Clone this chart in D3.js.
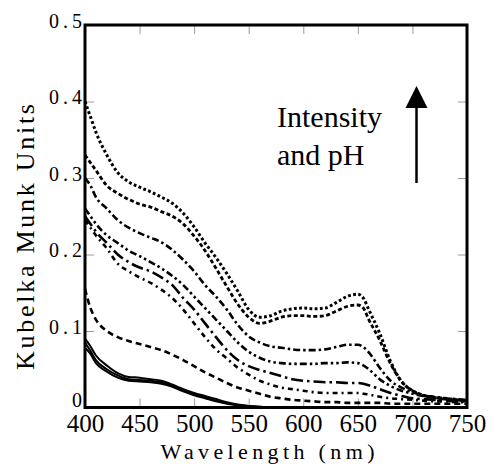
<!DOCTYPE html>
<html>
<head>
<meta charset="utf-8">
<script src="https://cdn.jsdelivr.net/npm/d3@7/dist/d3.min.js"></script>
<style>
html,body{margin:0;padding:0;background:#fff;}
svg{display:block;}
</style>
</head>
<body>
<svg id="chart" width="492" height="475"></svg>
<script>
// ---- data ----
const wavelengths = [400,405,410,420,430,440,450,460,470,480,490,500,510,520,530,540,550,560,570,580,590,600,610,620,630,640,650,655,660,670,680,690,700,710,720,730,740,750];
const seriesA = [0.40,0.38,0.36,0.33,0.307,0.295,0.288,0.282,0.275,0.267,0.254,0.236,0.215,0.196,0.175,0.152,0.128,0.118,0.12,0.126,0.129,0.13,0.129,0.13,0.137,0.145,0.148,0.143,0.128,0.097,0.06,0.034,0.022,0.016,0.013,0.012,0.01,0.009];
const seriesB = [0.33,0.32,0.31,0.29,0.28,0.272,0.266,0.262,0.256,0.25,0.24,0.224,0.205,0.182,0.158,0.135,0.118,0.11,0.113,0.118,0.12,0.12,0.119,0.12,0.126,0.132,0.134,0.13,0.115,0.088,0.057,0.034,0.022,0.016,0.013,0.011,0.01,0.009];
const seriesC = [0.30,0.29,0.275,0.26,0.245,0.235,0.228,0.222,0.216,0.206,0.193,0.178,0.16,0.145,0.128,0.108,0.093,0.085,0.08,0.078,0.076,0.075,0.075,0.076,0.079,0.082,0.082,0.079,0.072,0.052,0.035,0.026,0.02,0.016,0.014,0.012,0.011,0.01];
const seriesD = [0.26,0.25,0.24,0.225,0.215,0.205,0.198,0.19,0.182,0.172,0.16,0.145,0.13,0.115,0.1,0.085,0.073,0.065,0.06,0.058,0.057,0.057,0.057,0.058,0.058,0.059,0.058,0.055,0.05,0.037,0.028,0.022,0.018,0.015,0.013,0.011,0.01,0.009];
const seriesE = [0.25,0.24,0.23,0.215,0.2,0.19,0.183,0.178,0.17,0.16,0.143,0.128,0.11,0.092,0.075,0.062,0.054,0.049,0.045,0.041,0.037,0.035,0.034,0.033,0.033,0.032,0.032,0.031,0.029,0.024,0.019,0.015,0.012,0.011,0.01,0.009,0.008,0.008];
const seriesG = [0.245,0.235,0.225,0.208,0.188,0.178,0.17,0.163,0.154,0.143,0.128,0.11,0.092,0.076,0.064,0.052,0.043,0.035,0.03,0.026,0.024,0.022,0.02,0.019,0.019,0.019,0.019,0.018,0.017,0.014,0.012,0.011,0.01,0.009,0.008,0.008,0.007,0.007];
const seriesF = [0.155,0.13,0.115,0.1,0.092,0.087,0.083,0.079,0.075,0.069,0.062,0.054,0.046,0.039,0.032,0.026,0.022,0.018,0.014,0.012,0.01,0.009,0.008,0.007,0.007,0.006,0.006,0.006,0.006,0.006,0.005,0.005,0.005,0.005,0.005,0.005,0.005,0.005];
const seriesS1 = [0.09,0.08,0.068,0.055,0.045,0.04,0.039,0.037,0.035,0.03,0.024,0.019,0.015,0.011,0.007,0.004,0.002,0.001,0,0,0,0,0,0,0,0,0,0,0,0,0,0,0,0,0,0,0,0];
const seriesS2 = [0.085,0.074,0.062,0.05,0.042,0.037,0.036,0.035,0.033,0.028,0.022,0.017,0.013,0.009,0.006,0.003,0.002,0.001,0,0,0,0,0,0,0,0,0,0,0,0,0,0,0,0,0,0,0,0];
const seriesS3 = [0.078,0.07,0.058,0.047,0.039,0.035,0.034,0.033,0.031,0.027,0.021,0.016,0.012,0.008,0.005,0.003,0.001,0,0,0,0,0,0,0,0,0,0,0,0,0,0,0,0,0,0,0,0,0];
const xTicks = [400,450,500,550,600,650,700,750];
const yTicks = [0,0.1,0.2,0.3,0.4,0.5];
const yTickLabels = ["0","0.1","0.2","0.3","0.4","0.5"];
const xTitle = "Wavelength (nm)";
const yTitle = "Kubelka Munk Units";
const noteLines = ["Intensity","and pH"];

const seriesList = [
  {v: seriesS1, dash: null, w: 2},
  {v: seriesS2, dash: null, w: 2},
  {v: seriesS3, dash: null, w: 2},
  {v: seriesF, dash: "6,4", w: 2.6},
  {v: seriesG, dash: "5,4,2,4", w: 2.6},
  {v: seriesE, dash: "12,4,2.5,4", w: 2.6},
  {v: seriesD, dash: "7,3,2.5,3,2.5,3", w: 2.6},
  {v: seriesC, dash: "7,3,2.5,3", w: 2.6},
  {v: seriesB, dash: "4,2.5", w: 2.8},
  {v: seriesA, dash: "2.8,2.4", w: 3}
];

const SERIF = "'Liberation Serif', 'Times New Roman', 'DejaVu Serif', serif";

// ---- layout ----
const svg = d3.select("#chart").style("font-family", SERIF);
const L = 85, R = 467, T = 25, B = 407.5;
const x = d3.scaleLinear().domain([400,750]).range([L,R]);
const y = d3.scaleLinear().domain([0,0.5]).range([B,T]);

// inward ticks
const tickColor = "#9a9a9a";
const innerX = xTicks.filter(d => d > 400 && d < 750);
const innerY = yTicks.filter(d => d > 0 && d < 0.5);
const gb = svg.append("g").attr("transform",`translate(0,${B})`).call(d3.axisTop(x).tickValues(innerX).tickSize(9).tickFormat(""));
const gt = svg.append("g").attr("transform",`translate(0,${T})`).call(d3.axisBottom(x).tickValues(innerX).tickSize(9).tickFormat(""));
const gl = svg.append("g").attr("transform",`translate(${L},0)`).call(d3.axisRight(y).tickValues(innerY).tickSize(9).tickFormat(""));
const gr = svg.append("g").attr("transform",`translate(${R},0)`).call(d3.axisLeft(y).tickValues(innerY).tickSize(9).tickFormat(""));
[gb,gt,gl,gr].forEach(g => {
  g.select(".domain").remove();
  g.selectAll("line").attr("stroke",tickColor).attr("stroke-width",1);
});

// curves
const line = d3.line()
  .x((d,i) => x(wavelengths[i]))
  .y(d => y(d))
  .curve(d3.curveMonotoneX);
svg.append("g").selectAll("path").data(seriesList).join("path")
  .attr("d", s => line(s.v))
  .attr("fill","none")
  .attr("stroke","#000")
  .attr("stroke-width", s => s.w)
  .attr("stroke-dasharray", s => s.dash)
  .attr("stroke-linejoin","round");

// frame
svg.append("rect").attr("x",L).attr("y",T).attr("width",R-L).attr("height",B-T)
  .attr("fill","none").attr("stroke","#000").attr("stroke-width",3);

// x tick labels
const xa = svg.append("g").attr("transform",`translate(0,${B})`)
  .call(d3.axisBottom(x).tickValues(xTicks).tickSize(0).tickPadding(7).tickFormat(d3.format("d")));
xa.attr("font-family", null);
xa.select(".domain").remove();
xa.selectAll("text").attr("font-size",25).attr("fill","#000").style("font-family", SERIF);

// y tick labels
const ya = svg.append("g").attr("transform",`translate(${L},0)`)
  .call(d3.axisLeft(y).tickValues(yTicks).tickSize(0).tickPadding(3).tickFormat((d,i) => yTickLabels[i]));
ya.attr("font-family", null);
ya.select(".domain").remove();
ya.selectAll("text").attr("font-size",20).attr("fill","#000").style("font-family", SERIF)
  .attr("dy", (d,i) => i === 0 ? "-0.05em" : "0.12em")
  .attr("textLength", (d,i) => yTickLabels[i].length > 1 ? 33 : null)
  .attr("lengthAdjust","spacing");

// titles
svg.append("text").attr("x",(160+375)/2).attr("y",459)
  .attr("text-anchor","middle").attr("font-size",22).style("font-family", SERIF)
  .attr("textLength",214).attr("lengthAdjust","spacing").text(xTitle);
svg.append("text").attr("transform","translate(34,237) rotate(-90)")
  .attr("text-anchor","middle").attr("font-size",26).style("font-family", SERIF)
  .attr("textLength",266).attr("lengthAdjust","spacing").text(yTitle);

// annotation
svg.append("g").selectAll("text").data(noteLines).join("text")
  .attr("x",277).attr("y",(d,i) => 127 + i*38)
  .attr("font-size",30).style("font-family", SERIF).text(d => d);
svg.append("line").attr("x1",416.5).attr("x2",416.5).attr("y1",183).attr("y2",104)
  .attr("stroke","#000").attr("stroke-width",2.5);
svg.append("path").attr("d","M416.5,86 L405.5,108 L427.5,108 Z").attr("fill","#000");
</script>
</body>
</html>
